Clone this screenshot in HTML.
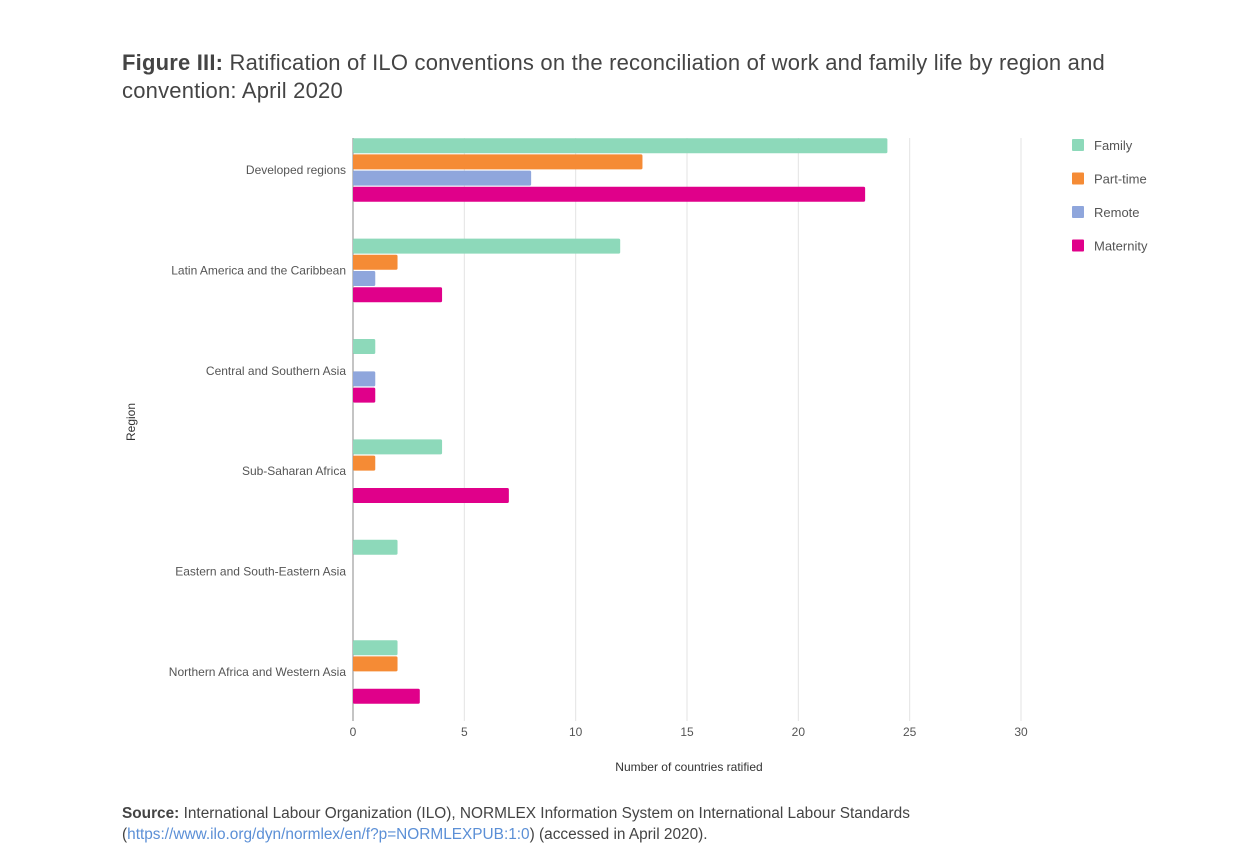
<!DOCTYPE html>
<html><head><meta charset="utf-8">
<style>
body{margin:0;background:#fff;width:1252px;height:839px;overflow:hidden;font-family:"Liberation Sans",sans-serif;position:relative}
.title{position:absolute;left:122px;top:49px;width:1010px;font-size:22px;letter-spacing:0.2px;line-height:28px;color:#444}
.src{position:absolute;left:122px;top:803px;width:1010px;font-size:15.4px;line-height:21px;color:#444}
.src a{color:#5b8fd6}
svg{position:absolute;left:0;top:0}
</style></head><body>
<div class="title"><b>Figure III:</b> Ratification of ILO conventions on the reconciliation of work and family life by region and convention: April 2020</div>
<svg id="chart" width="1252" height="839"></svg>
<div class="src"><b>Source:</b> International Labour Organization (ILO), NORMLEX Information System on International Labour Standards (<a>https://www.ilo.org/dyn/normlex/en/f?p=NORMLEXPUB:1:0</a>) (accessed in April 2020).</div>
<script>
const regions=["Developed regions","Latin America and the Caribbean","Central and Southern Asia","Sub-Saharan Africa","Eastern and South-Eastern Asia","Northern Africa and Western Asia"];
const seriesNames=["Family","Part-time","Remote","Maternity"];
const family=[24,12,1,4,2,2];
const partTime=[13,2,0,1,0,2];
const remote=[8,1,1,0,0,0];
const maternity=[23,4,1,7,0,3];
const xTicks=[0,5,10,15,20,25,30];
const colors=["#8dd9ba","#f58b35","#8fa6dc","#e0008a"];
const series=[family,partTime,remote,maternity];
const NS="http://www.w3.org/2000/svg";
const svg=document.getElementById('chart');
const x0=353,x1=1021,xMax=30,yTop=138,yBottom=721;
const bandTop=119.8,band=100.4;
const xs=v=>x0+v/xMax*(x1-x0);
const yc=i=>bandTop+band*(i+0.5);
function mk(t,a,txt){const e=document.createElementNS(NS,t);for(const k in a)e.setAttribute(k,a[k]);if(txt!==undefined)e.textContent=txt;svg.appendChild(e);return e;}
xTicks.forEach(t=>{
 if(t>0){const g=mk('line',{x1:xs(t),x2:xs(t),y1:yTop,y2:yBottom,stroke:'#e3e3e3','stroke-width':1});
 
 }
 const l=mk('text',{x:xs(t),y:736,'text-anchor':'middle','font-size':12,fill:'#555'},t);
 
 
});
const ax=mk('line',{x1:x0,x2:x0,y1:yTop,y2:yBottom,stroke:'#888','stroke-width':1});


regions.forEach((r,i)=>{
 const l=mk('text',{x:346,y:yc(i)+4,'text-anchor':'end','font-size':12,fill:'#555'},r);
 
 
 series.forEach((s,j)=>{
  if(s[i]<=0)return;
  const y=yc(i)+(j-1.5)*16.2-7.5;
  const b=mk('rect',{x:x0,y:y,width:xs(s[i])-x0,height:15,fill:colors[j],rx:1.5});
  
  
 });
});
const xt=mk('text',{x:689,y:771,'text-anchor':'middle','font-size':12,fill:'#333'},'Number of countries ratified');


const yt=mk('text',{x:135,y:422,'text-anchor':'middle','font-size':12,fill:'#333',transform:'rotate(-90 135 422)'},'Region');


seriesNames.forEach((n,j)=>{
 const y=145+j*33.5;
 const r=mk('rect',{x:1072,y:y-6,width:12,height:12,fill:colors[j],rx:1});
 
 
 const t=mk('text',{x:1094,y:y+5,'font-size':13,fill:'#555'},n);
 
 
});
</script>
</body></html>
